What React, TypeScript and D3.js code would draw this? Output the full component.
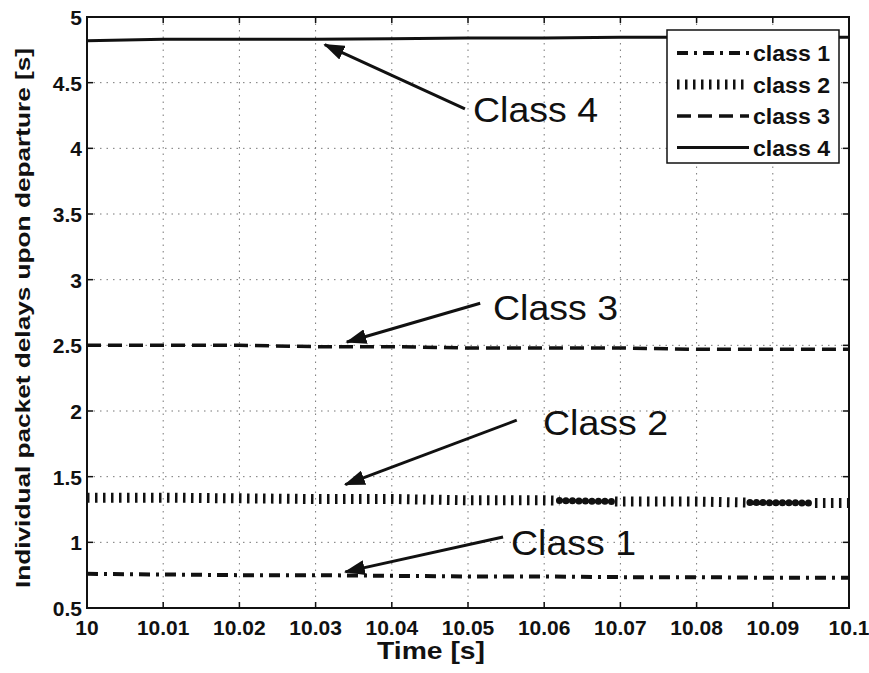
import { useEffect, useRef } from 'react';
import * as d3 from 'd3';

const times = [10, 10.01, 10.02, 10.03, 10.04, 10.05, 10.06, 10.07, 10.08, 10.09, 10.1];
const class1 = [0.76, 0.755, 0.75, 0.75, 0.745, 0.74, 0.74, 0.735, 0.735, 0.73, 0.73];
const class2 = [1.34, 1.34, 1.335, 1.33, 1.33, 1.32, 1.32, 1.31, 1.31, 1.3, 1.3];
const class3 = [2.5, 2.5, 2.5, 2.49, 2.49, 2.48, 2.48, 2.48, 2.47, 2.47, 2.47];
const class4 = [4.82, 4.83, 4.83, 4.83, 4.835, 4.84, 4.84, 4.845, 4.845, 4.845, 4.845];
// stretches of class 2 where the markers merge into round dots
const class2Dense = [[10.062, 10.069], [10.087, 10.095]];

const xTicks = [10, 10.01, 10.02, 10.03, 10.04, 10.05, 10.06, 10.07, 10.08, 10.09, 10.1];
const xTickLabels = ['10', '10.01', '10.02', '10.03', '10.04', '10.05', '10.06', '10.07', '10.08', '10.09', '10.1'];
const yTicks = [0.5, 1, 1.5, 2, 2.5, 3, 3.5, 4, 4.5, 5];
const yTickLabels = ['0.5', '1', '1.5', '2', '2.5', '3', '3.5', '4', '4.5', '5'];

const legendLabels = ['class 1', 'class 2', 'class 3', 'class 4'];

// annotation: label, label x, baseline y, arrow tail (data), arrow tip (data)
const notes = [
  { label: 'Class 4', tx: 473, ty: 122, from: [10.0496, 4.3], to: [10.0312, 4.79] },
  { label: 'Class 3', tx: 493, ty: 320, from: [10.0516, 2.82], to: [10.0341, 2.525] },
  { label: 'Class 2', tx: 543, ty: 435, from: [10.0564, 1.93], to: [10.0339, 1.44] },
  { label: 'Class 1', tx: 511, ty: 555, from: [10.0546, 1.04], to: [10.0339, 0.775] },
];

const FONT = '"Liberation Sans", Arial, Helvetica, sans-serif';

export default function App() {
  const svgRef = useRef<SVGSVGElement>(null);

  useEffect(() => {
    if (!svgRef.current) return;
    const svg = d3.select(svgRef.current);
    svg.selectAll('*').remove();

    const left = 87;
    const right = 849;
    const top = 17;
    const bottom = 608;

    const x = d3.scaleLinear().domain([10, 10.1]).range([left, right]);
    const y = d3.scaleLinear().domain([0.5, 5]).range([bottom, top]);

    svg.append('rect').attr('width', 869).attr('height', 673).attr('fill', '#fff');

    const defs = svg.append('defs');
    defs
      .append('clipPath')
      .attr('id', 'plot-clip')
      .append('rect')
      .attr('x', left)
      .attr('y', top)
      .attr('width', right - left)
      .attr('height', bottom - top);
    defs
      .append('marker')
      .attr('id', 'arrowhead')
      .attr('viewBox', '0 0 14 10')
      .attr('refX', 13)
      .attr('refY', 5)
      .attr('markerWidth', 7)
      .attr('markerHeight', 5)
      .attr('markerUnits', 'strokeWidth')
      .attr('orient', 'auto')
      .append('path')
      .attr('d', 'M0,0 L14,5 L0,10 Z')
      .attr('fill', '#111');

    // grid
    const grid = svg.append('g').attr('stroke', '#777').attr('stroke-width', 1).attr('stroke-dasharray', '1.5,5');
    grid
      .selectAll('line.gx')
      .data(xTicks.slice(1, -1))
      .enter()
      .append('line')
      .attr('x1', (d) => x(d))
      .attr('x2', (d) => x(d))
      .attr('y1', top)
      .attr('y2', bottom);
    grid
      .selectAll('line.gy')
      .data(yTicks.slice(1, -1))
      .enter()
      .append('line')
      .attr('x1', left)
      .attr('x2', right)
      .attr('y1', (d) => y(d))
      .attr('y2', (d) => y(d));

    const plot = svg.append('g').attr('clip-path', 'url(#plot-clip)');
    const line = d3
      .line<number>()
      .x((_, i) => x(times[i]))
      .y((d) => y(d));

    // class 4 solid
    plot.append('path').attr('d', line(class4)).attr('fill', 'none').attr('stroke', '#111').attr('stroke-width', 3);
    // class 3 dashed
    plot
      .append('path')
      .attr('d', line(class3))
      .attr('fill', 'none')
      .attr('stroke', '#111')
      .attr('stroke-width', 3.5)
      .attr('stroke-dasharray', '14,7');
    // class 2 - vertical tick markers
    plot
      .append('path')
      .attr('d', line(class2))
      .attr('fill', 'none')
      .attr('stroke', '#111')
      .attr('stroke-width', 10)
      .attr('stroke-dasharray', '2.5,5.5');
    const c2interp = d3.scaleLinear().domain(times).range(class2);
    class2Dense.forEach(([a, b]) => {
      plot
        .append('line')
        .attr('x1', x(a))
        .attr('x2', x(b))
        .attr('y1', y(c2interp(a)))
        .attr('y2', y(c2interp(b)))
        .attr('stroke', '#fff')
        .attr('stroke-width', 12);
      plot
        .append('line')
        .attr('x1', x(a))
        .attr('x2', x(b))
        .attr('y1', y(c2interp(a)))
        .attr('y2', y(c2interp(b)))
        .attr('stroke', '#111')
        .attr('stroke-width', 7)
        .attr('stroke-linecap', 'round')
        .attr('stroke-dasharray', '0,6.5');
    });
    // class 1 dash-dot
    plot
      .append('path')
      .attr('d', line(class1))
      .attr('fill', 'none')
      .attr('stroke', '#111')
      .attr('stroke-width', 4)
      .attr('stroke-dasharray', '11,6,3,6');

    // axes box
    svg
      .append('rect')
      .attr('x', left)
      .attr('y', top)
      .attr('width', right - left)
      .attr('height', bottom - top)
      .attr('fill', 'none')
      .attr('stroke', '#111')
      .attr('stroke-width', 2);

    // ticks on all four sides, pointing inward
    const tickLen = 6;
    const ticks = svg.append('g').attr('stroke', '#111').attr('stroke-width', 1.5);
    xTicks.forEach((t) => {
      ticks.append('line').attr('x1', x(t)).attr('x2', x(t)).attr('y1', bottom).attr('y2', bottom - tickLen);
      ticks.append('line').attr('x1', x(t)).attr('x2', x(t)).attr('y1', top).attr('y2', top + tickLen);
    });
    yTicks.forEach((t) => {
      ticks.append('line').attr('x1', left).attr('x2', left + tickLen).attr('y1', y(t)).attr('y2', y(t));
      ticks.append('line').attr('x1', right).attr('x2', right - tickLen).attr('y1', y(t)).attr('y2', y(t));
    });

    // tick labels
    svg
      .append('g')
      .selectAll('text')
      .data(xTicks)
      .enter()
      .append('text')
      .attr('x', (d) => x(d))
      .attr('y', 635)
      .attr('text-anchor', 'middle')
      .attr('font-family', FONT)
      .attr('font-weight', 'bold')
      .attr('font-size', 21)
      .attr('fill', '#111')
      .text((_, i) => xTickLabels[i]);
    svg
      .append('g')
      .selectAll('text')
      .data(yTicks)
      .enter()
      .append('text')
      .attr('x', 82)
      .attr('y', (d) => y(d) + 8)
      .attr('text-anchor', 'end')
      .attr('font-family', FONT)
      .attr('font-weight', 'bold')
      .attr('font-size', 21)
      .attr('fill', '#111')
      .text((_, i) => yTickLabels[i]);

    // axis titles
    svg
      .append('text')
      .attr('x', 431)
      .attr('y', 659)
      .attr('text-anchor', 'middle')
      .attr('font-family', FONT)
      .attr('font-weight', 'bold')
      .attr('font-size', 24)
      .attr('textLength', 108)
      .attr('lengthAdjust', 'spacingAndGlyphs')
      .attr('fill', '#111')
      .text('Time [s]');
    svg
      .append('text')
      .attr('transform', 'translate(30,318) rotate(-90)')
      .attr('text-anchor', 'middle')
      .attr('font-family', FONT)
      .attr('font-weight', 'bold')
      .attr('font-size', 21)
      .attr('textLength', 540)
      .attr('lengthAdjust', 'spacingAndGlyphs')
      .attr('fill', '#111')
      .text('Individual packet delays upon departure [s]');

    // legend
    const lg = svg.append('g');
    lg.append('rect')
      .attr('x', 667)
      .attr('y', 30)
      .attr('width', 172)
      .attr('height', 133)
      .attr('fill', '#fff')
      .attr('stroke', '#111')
      .attr('stroke-width', 1.5);
    const legendStyles = [
      { w: 4, dash: '11,6,3,6' },
      { w: 10, dash: '2.5,5.5' },
      { w: 3.5, dash: '14,7' },
      { w: 3, dash: null },
    ];
    legendLabels.forEach((lab, i) => {
      const cy = 53 + i * 31.5;
      const l = lg
        .append('line')
        .attr('x1', 677)
        .attr('x2', 749)
        .attr('y1', cy)
        .attr('y2', cy)
        .attr('stroke', '#111')
        .attr('stroke-width', legendStyles[i].w);
      if (legendStyles[i].dash) l.attr('stroke-dasharray', legendStyles[i].dash);
      lg.append('text')
        .attr('x', 753)
        .attr('y', cy + 8)
        .attr('font-family', FONT)
        .attr('font-weight', 'bold')
        .attr('font-size', 22)
        .attr('textLength', 77)
        .attr('lengthAdjust', 'spacingAndGlyphs')
        .attr('fill', '#111')
        .text(lab);
    });

    // annotations
    notes.forEach((n) => {
      svg
        .append('line')
        .attr('x1', x(n.from[0]))
        .attr('y1', y(n.from[1]))
        .attr('x2', x(n.to[0]))
        .attr('y2', y(n.to[1]))
        .attr('stroke', '#111')
        .attr('stroke-width', 3)
        .attr('marker-end', 'url(#arrowhead)');
      svg
        .append('text')
        .attr('x', n.tx)
        .attr('y', n.ty)
        .attr('font-family', FONT)
        .attr('font-size', 35)
        .attr('textLength', 125)
        .attr('lengthAdjust', 'spacingAndGlyphs')
        .attr('fill', '#111')
        .text(n.label);
    });
  }, []);

  return <svg ref={svgRef} width={869} height={673} style={{ position: 'absolute', left: 0, top: 0 }} />;
}
